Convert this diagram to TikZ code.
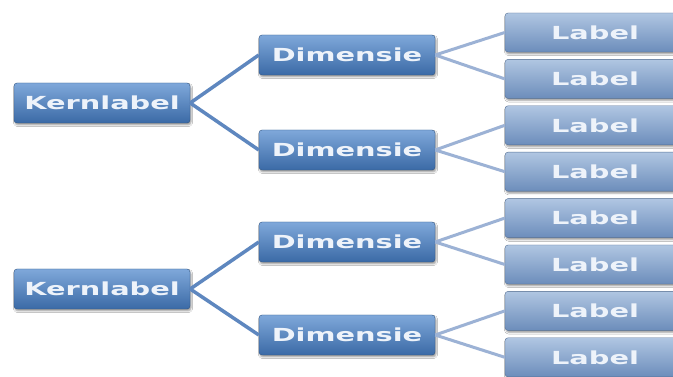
\documentclass[tikz,border=0pt]{standalone}
\usepackage{fontspec}
\setsansfont{DejaVu Sans}
\usepackage{tikz}
\usetikzlibrary{positioning,shadows.blur}
\definecolor{kerntop}{HTML}{7FA8DA}
\definecolor{kernmid}{HTML}{4C80BE}
\definecolor{kernbot}{HTML}{3B6AA6}
\definecolor{lbltop}{HTML}{B0C6E2}
\definecolor{lblmid}{HTML}{809FC9}
\definecolor{lblbot}{HTML}{6C8DBB}
\definecolor{stemcol}{HTML}{5E87BF}
\definecolor{twigcol}{HTML}{9CB2D5}
\definecolor{boxtext}{HTML}{EEF3FA}
\newcommand{\widetxt}[1]{\scalebox{1.6}[1]{#1}}

\begin{document}
\begin{tikzpicture}[
      x=1pt,y=1pt,
      kern/.style={rounded corners=3pt,draw=kernbot!80!black,thin,top color=kerntop,middle color=kernmid,bottom color=kernbot,
        text=boxtext,font=\sffamily\bfseries\fontsize{18}{18}\selectfont,minimum width=176pt,minimum height=40pt,
        blur shadow={shadow xshift=1pt,shadow yshift=-2pt,shadow blur steps=4}},
      lbl/.style={kern,draw=lblbot!80!black,top color=lbltop,middle color=lblmid,bottom color=lblbot,minimum width=180pt,minimum height=39pt},
      stem/.style={draw=stemcol,line width=3.5pt},
      twig/.style={draw=twigcol,line width=3pt}
    ]
    \clip (0,0) rectangle (673,377);
    \fill[white] (0,0) rectangle (673,377);

    % upper tree
    \node[kern] (kernA) at (102,274) {\widetxt{Kernlabel}};
    \node[kern] (dimA) at (347,322) {\widetxt{Dimensie}};
    \node[kern] (dimB) at (347,227) {\widetxt{Dimensie}};
    \node[lbl] (lblA) at (595,344.5) {\widetxt{Label}};
    \node[lbl] (lblB) at (595,298.1) {\widetxt{Label}};
    \node[lbl] (lblC) at (595,251.7) {\widetxt{Label}};
    \node[lbl] (lblD) at (595,205.3) {\widetxt{Label}};

    % lower tree
    \node[kern] (kernB) at (102,88) {\widetxt{Kernlabel}};
    \node[kern] (dimC) at (347,135) {\widetxt{Dimensie}};
    \node[kern] (dimD) at (347,42) {\widetxt{Dimensie}};
    \node[lbl] (lblE) at (595,158.9) {\widetxt{Label}};
    \node[lbl] (lblF) at (595,112.5) {\widetxt{Label}};
    \node[lbl] (lblG) at (595,66.1) {\widetxt{Label}};
    \node[lbl] (lblH) at (595,19.7) {\widetxt{Label}};

    \draw[stem] (kernA.east) -- (dimA.west);
    \draw[stem] (kernA.east) -- (dimB.west);
    \draw[stem] (kernB.east) -- (dimC.west);
    \draw[stem] (kernB.east) -- (dimD.west);
    \draw[twig] (dimA.east) -- (lblA.west);
    \draw[twig] (dimA.east) -- (lblB.west);
    \draw[twig] (dimB.east) -- (lblC.west);
    \draw[twig] (dimB.east) -- (lblD.west);
    \draw[twig] (dimC.east) -- (lblE.west);
    \draw[twig] (dimC.east) -- (lblF.west);
    \draw[twig] (dimD.east) -- (lblG.west);
    \draw[twig] (dimD.east) -- (lblH.west);
  \end{tikzpicture}
\end{document}
